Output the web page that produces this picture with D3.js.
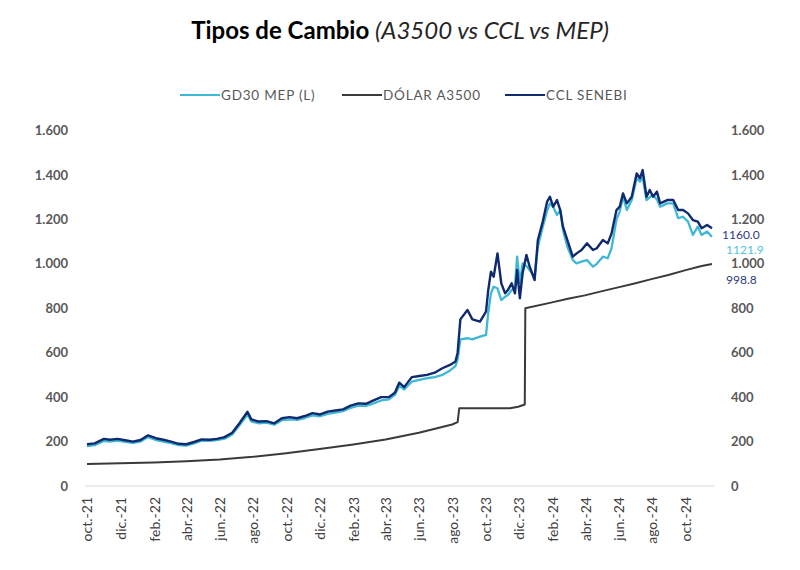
<!DOCTYPE html>
<html>
<head>
<meta charset="utf-8">
<script src="https://cdn.jsdelivr.net/npm/d3@7"></script>
<style>
  body { margin: 0; background: #fff; }
  svg, svg g, svg text { font-family: Lato, "Open Sans", sans-serif; }
  .axis text { fill: #595959; font-weight: bold; font-size: 13px; }
  .x-axis text { fill: #404040; font-weight: normal; font-size: 14px; }
  .legend text { fill: #595959; font-size: 13.5px; letter-spacing: 0.8px; }
</style>
</head>
<body>
<div id="chart"></div>
<script>
// series CCL / MEP share dates
const dates = [
  "2021-10-01","2021-10-15","2021-11-01","2021-11-12","2021-11-26","2021-12-10","2021-12-24",
  "2022-01-07","2022-01-21","2022-02-04","2022-02-18","2022-03-04","2022-03-18","2022-04-01",
  "2022-04-15","2022-04-29","2022-05-13","2022-05-27","2022-06-10","2022-06-24","2022-07-08",
  "2022-07-22","2022-07-29","2022-08-12","2022-08-26","2022-09-09","2022-09-23","2022-10-07",
  "2022-10-21","2022-11-04","2022-11-18","2022-12-02","2022-12-16","2022-12-30",
  "2023-01-13","2023-01-27","2023-02-10","2023-02-24","2023-03-10","2023-03-24","2023-04-07",
  "2023-04-18","2023-04-26","2023-05-05","2023-05-19","2023-06-02","2023-06-16","2023-06-30",
  "2023-07-14","2023-07-28","2023-08-07","2023-08-11","2023-08-16","2023-08-29","2023-09-07",
  "2023-09-21","2023-10-02","2023-10-06","2023-10-11","2023-10-16","2023-10-23","2023-10-30",
  "2023-11-06","2023-11-11","2023-11-18","2023-11-24","2023-11-28","2023-12-03","2023-12-08",
  "2023-12-15","2023-12-21","2023-12-30",
  "2024-01-05","2024-01-14","2024-01-22","2024-01-27","2024-02-02","2024-02-09","2024-02-15",
  "2024-02-20","2024-02-28","2024-03-09","2024-03-16","2024-03-25","2024-04-04","2024-04-15",
  "2024-04-22","2024-05-03","2024-05-12","2024-05-19","2024-05-28","2024-06-03","2024-06-09",
  "2024-06-16","2024-06-25","2024-07-04","2024-07-10","2024-07-15","2024-07-22","2024-07-28",
  "2024-08-03","2024-08-10","2024-08-16","2024-08-29","2024-09-09","2024-09-18","2024-09-27",
  "2024-10-06","2024-10-15","2024-10-24","2024-10-31","2024-11-10","2024-11-19"
];
const cclSenebi = [
  188,192,212,208,212,206,200,
  207,228,215,208,200,190,188,
  198,210,208,212,220,240,285,
  334,300,290,292,282,305,310,
  305,315,328,322,335,340,
  345,362,372,370,385,400,400,
  420,465,445,490,495,500,510,
  530,545,560,600,750,792,750,
  740,785,880,965,942,1047,912,
  867,882,912,867,972,845,957,
  1040,987,927,
  1107,1190,1280,1302,1257,1287,1242,
  1167,1107,1032,1047,1062,1092,1062,
  1070,1107,1092,1137,1242,1257,1317,
  1272,1302,1407,1385,1422,1302,1332,
  1302,1325,1272,1287,1287,1242,1242,
  1227,1197,1190,1160,1175,1160
];
const gd30Mep = [
  180,184,203,200,204,199,194,
  200,220,207,200,193,184,182,
  192,204,203,206,213,232,275,
  322,290,282,285,276,296,300,
  298,306,318,314,325,330,
  337,352,362,360,372,385,390,
  410,450,435,470,478,485,490,
  500,520,540,570,660,665,660,
  672,680,777,867,897,890,837,
  852,860,882,897,1032,912,1002,
  990,972,942,
  1077,1167,1240,1272,1257,1220,1242,
  1152,1077,1017,1002,1010,1017,987,
  1000,1032,1025,1070,1200,1235,1302,
  1242,1287,1385,1370,1390,1287,1300,
  1310,1290,1257,1272,1272,1205,1212,
  1190,1130,1167,1130,1145,1121.9
];

// official A3500
const a3500Dates = [
  "2021-10-01","2021-12-01","2022-02-01","2022-04-01","2022-06-01","2022-08-01","2022-10-01",
  "2022-12-01","2023-02-01","2023-04-01","2023-06-01","2023-08-01","2023-08-11","2023-08-14",
  "2023-11-15","2023-11-30","2023-12-12","2023-12-13","2024-01-31","2024-02-29","2024-03-31",
  "2024-04-30","2024-05-31","2024-06-30","2024-07-31","2024-08-31","2024-09-30","2024-10-31",
  "2024-11-19"
];
const dolarA3500 = [
  98.7,101.9,105.9,111.0,119.2,131.2,147.3,
  166.5,187.0,209.0,240.0,277.0,287.3,350,
  350,357,366.5,800,826.5,843,858,
  876,894,911.5,931,949.5,970.5,990.5,
  998.8
];

const tickDates = ["2021-10-01","2021-12-01","2022-02-01","2022-04-01","2022-06-01","2022-08-01",
  "2022-10-01","2022-12-01","2023-02-01","2023-04-01","2023-06-01","2023-08-01","2023-10-01",
  "2023-12-01","2024-02-01","2024-04-01","2024-06-01","2024-08-01","2024-10-01"];
const tickLabels = ["oct.-21","dic.-21","feb.-22","abr.-22","jun.-22","ago.-22","oct.-22",
  "dic.-22","feb.-23","abr.-23","jun.-23","ago.-23","oct.-23","dic.-23","feb.-24","abr.-24",
  "jun.-24","ago.-24","oct.-24"];
const yTicks = [0,200,400,600,800,1000,1200,1400,1600];

const seriesNames = ["GD30 MEP (L)", "DÓLAR A3500", "CCL SENEBI"];
const seriesColors = ["#3db8d6", "#3a3a3a", "#0f2a6e"];

const w = 800, h = 570;
const parse = d3.timeParse("%Y-%m-%d");
const es = d3.formatLocale({decimal: ",", thousands: ".", grouping: [3], currency: ["", ""]});
const fmt = es.format(",");

const svg = d3.select("#chart").append("svg")
  .attr("width", w).attr("height", h);

const xScale = d3.scaleTime()
  .domain([parse("2021-10-01"), parse("2024-11-19")])
  .range([87, 712]);
const yScale = d3.scaleLinear()
  .domain([0, 1600])
  .range([486, 130.5]);

// title
const title = svg.append("text")
  .attr("x", 400).attr("y", 39)
  .attr("text-anchor", "middle")
  .style("font-size", "24px")
  .attr("fill", "#000");
title.append("tspan").attr("font-weight", "bold").text("Tipos de Cambio ");
title.append("tspan").attr("font-style", "italic").attr("fill", "#262626").text("(A3500 vs CCL vs MEP)");

// baseline
svg.append("line")
  .attr("x1", 85).attr("x2", 714)
  .attr("y1", yScale(0)).attr("y2", yScale(0))
  .attr("stroke", "#d9d9d9").attr("stroke-width", 1);

// axes
svg.append("g")
  .attr("class", "axis")
  .attr("transform", "translate(68,0)")
  .call(d3.axisLeft(yScale).tickValues(yTicks).tickFormat(fmt).tickSize(0).tickPadding(0))
  .call(g => g.select(".domain").remove());
svg.append("g")
  .attr("class", "axis")
  .attr("transform", "translate(731,0)")
  .call(d3.axisRight(yScale).tickValues(yTicks).tickFormat(fmt).tickSize(0).tickPadding(0))
  .call(g => g.select(".domain").remove());

svg.append("g")
  .attr("class", "x-axis")
  .attr("transform", "translate(0," + yScale(0) + ")")
  .call(d3.axisBottom(xScale)
    .tickValues(tickDates.map(parse))
    .tickFormat((d, i) => tickLabels[i])
    .tickSize(0))
  .call(g => g.select(".domain").remove())
  .selectAll("text")
  .attr("transform", "rotate(-90)")
  .attr("text-anchor", "end")
  .attr("x", -11)
  .attr("y", 0)
  .attr("dy", "0.35em");

// lines
const line = d3.line()
  .x(d => xScale(d[0]))
  .y(d => yScale(d[1]));

const mepData = dates.map((d, i) => [parse(d), gd30Mep[i]]);
const cclData = dates.map((d, i) => [parse(d), cclSenebi[i]]);
const a3500Data = a3500Dates.map((d, i) => [parse(d), dolarA3500[i]]);

svg.append("path").datum(mepData)
  .attr("d", line).attr("fill", "none")
  .attr("stroke", seriesColors[0]).attr("stroke-width", 2.3)
  .attr("stroke-linejoin", "round");
svg.append("path").datum(a3500Data)
  .attr("d", line).attr("fill", "none")
  .attr("stroke", seriesColors[1]).attr("stroke-width", 2)
  .attr("stroke-linejoin", "round");
svg.append("path").datum(cclData)
  .attr("d", line).attr("fill", "none")
  .attr("stroke", seriesColors[2]).attr("stroke-width", 2.4)
  .attr("stroke-linejoin", "round");

// end labels
const endLabels = [
  {v: cclSenebi[cclSenebi.length - 1], c: "#2f3a80", x: 722, y: 234.5},
  {v: gd30Mep[gd30Mep.length - 1], c: "#4fc3dc", x: 726, y: 249.5},
  {v: dolarA3500[dolarA3500.length - 1], c: "#2f3a80", x: 726, y: 280}
];
svg.selectAll(".end-label")
  .data(endLabels)
  .enter()
  .append("text")
  .attr("class", "end-label")
  .attr("x", d => d.x)
  .attr("y", d => d.y)
  .attr("dy", "0.35em")
  .attr("fill", d => d.c)
  .style("font-size", "12px")
  .text(d => d.v.toFixed(1));

// legend
const legendX = [180, 342, 505];
const legend = svg.append("g").attr("class", "legend");
seriesNames.forEach((name, i) => {
  legend.append("line")
    .attr("x1", legendX[i]).attr("x2", legendX[i] + 40)
    .attr("y1", 95).attr("y2", 95)
    .attr("stroke", seriesColors[i]).attr("stroke-width", 2);
  legend.append("text")
    .attr("x", legendX[i] + 41).attr("y", 95)
    .attr("dy", "0.35em")
    .text(name);
});
</script>
</body>
</html>
